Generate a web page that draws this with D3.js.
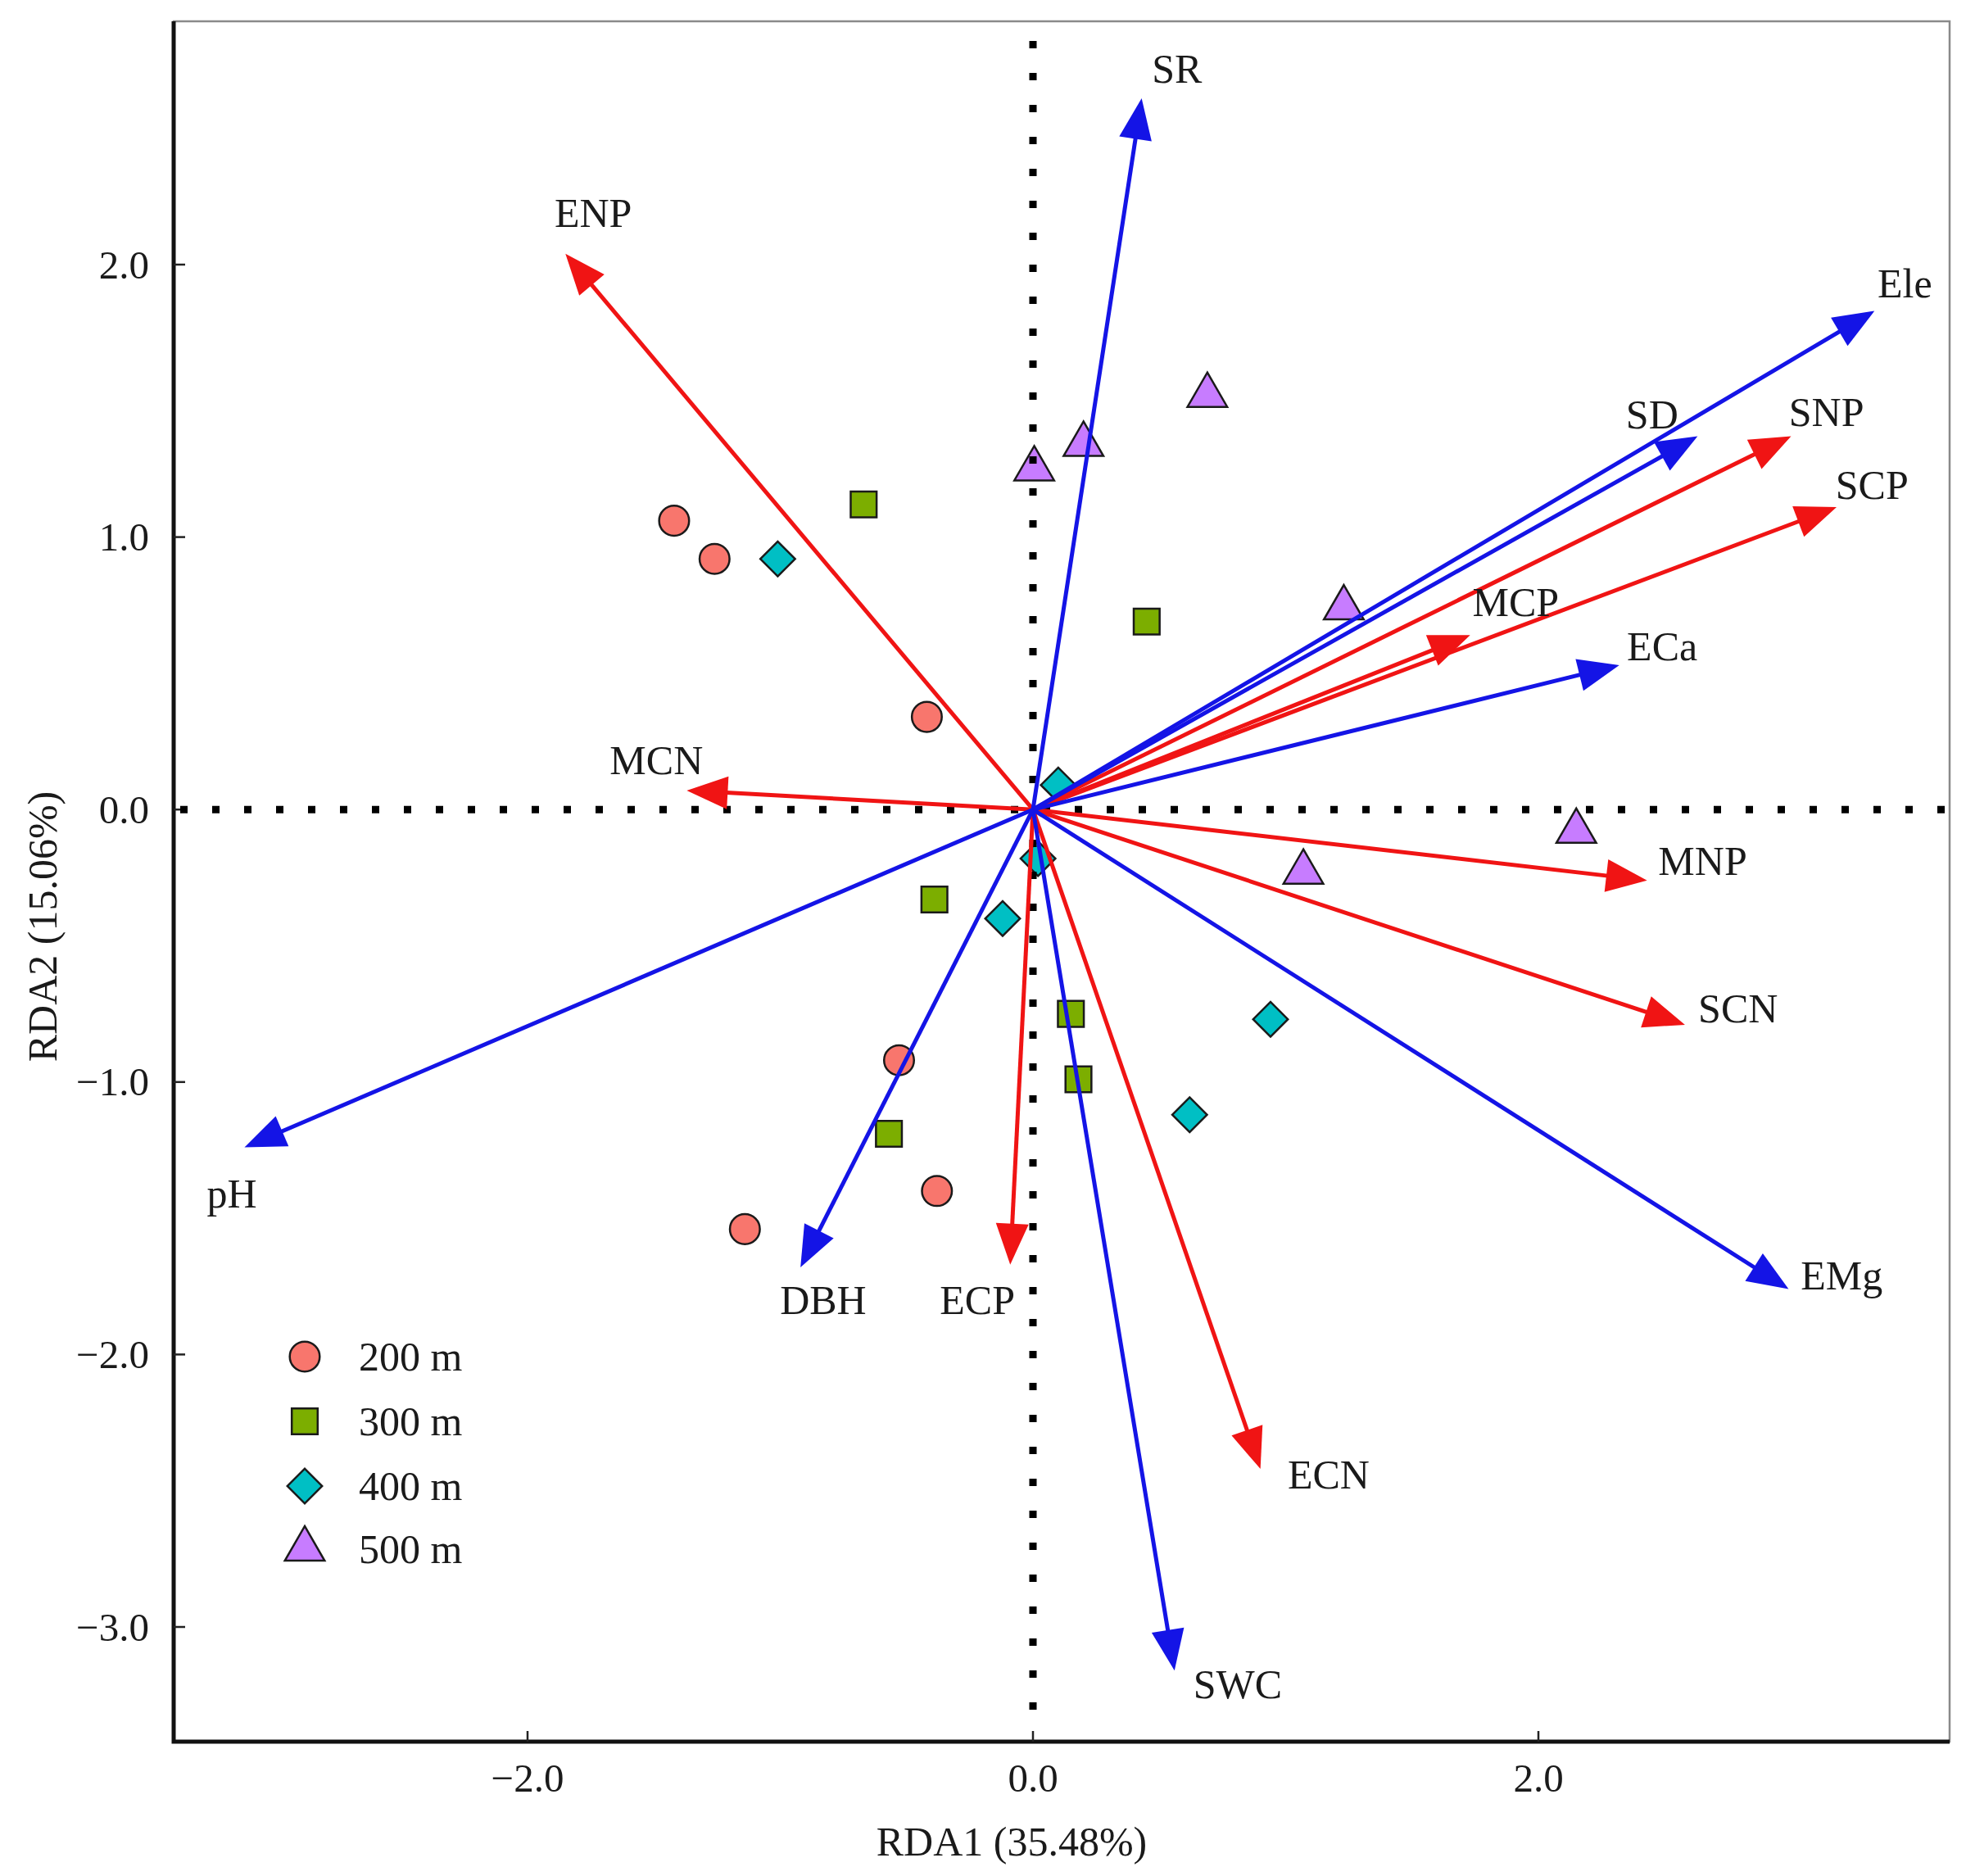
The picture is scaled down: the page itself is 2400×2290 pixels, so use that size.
<!DOCTYPE html>
<html>
<head>
<meta charset="utf-8">
<script src="https://cdn.jsdelivr.net/npm/d3@7/dist/d3.min.js"></script>
<style>
  body { margin: 0; background: #fff; }
  svg { display: block; }
  text { font-family: "Liberation Serif", "Times New Roman", serif; fill: #1a1a1a; }
</style>
</head>
<body>
<div id="chart"></div>
<script>
const WIDTH = 2400
const HEIGHT = 2290

// site scores (RDA1, RDA2) per elevation
const groups = ['200 m', '300 m', '400 m', '500 m']
const groupColors = ['#F8766D', '#7CAE00', '#00BFC4', '#C77CFF']
const sites200 = [[-1.42, 1.06], [-1.26, 0.92], [-0.42, 0.34], [-0.53, -0.92], [-0.38, -1.40], [-1.14, -1.54]]
const sites300 = [[-0.67, 1.12], [0.45, 0.69], [-0.39, -0.33], [0.15, -0.75], [0.18, -0.99], [-0.57, -1.19]]
const sites400 = [[-1.01, 0.92], [0.10, 0.09], [0.02, -0.18], [-0.12, -0.40], [0.94, -0.77], [0.62, -1.12]]
const sites500 = [[0.69, 1.52], [0.20, 1.34], [0.005, 1.25], [1.23, 0.74], [2.15, -0.08], [1.07, -0.23]]

// response variables (red arrows)
const redVars = ['ENP', 'MCN', 'MCP', 'SNP', 'SCP', 'MNP', 'SCN', 'ECN', 'ECP']
const redRDA1 = [-1.85, -1.37, 1.73, 3.00, 3.18, 2.43, 2.58, 0.90, -0.09]
const redRDA2 = [2.04, 0.07, 0.64, 1.37, 1.11, -0.26, -0.79, -2.42, -1.67]
const redLabelX = [-1.74, -1.49, 1.91, 3.14, 3.32, 2.65, 2.79, 1.17, -0.22]
const redLabelY = [2.19, 0.18, 0.76, 1.46, 1.19, -0.19, -0.73, -2.44, -1.80]

// explanatory variables (blue arrows)
const blueVars = ['SR', 'Ele', 'SD', 'ECa', 'EMg', 'SWC', 'DBH', 'pH']
const blueRDA1 = [0.43, 3.33, 2.63, 2.32, 2.99, 0.56, -0.92, -3.12]
const blueRDA2 = [2.61, 1.83, 1.37, 0.53, -1.76, -3.16, -1.68, -1.24]
const blueLabelX = [0.57, 3.45, 2.45, 2.49, 3.20, 0.81, -0.83, -3.17]
const blueLabelY = [2.72, 1.93, 1.45, 0.60, -1.71, -3.21, -1.80, -1.41]

const xTicks = [-2, 0, 2]
const yTicks = [2, 1, 0, -1, -2, -3]

const PLOT = { left: 212, right: 2380, top: 26, bottom: 2126 }

const x = d3.scaleLinear().domain([-2, 2]).range([644, 1878])
const y = d3.scaleLinear().domain([2, -3]).range([323, 1986])

const svg = d3.select('#chart').append('svg')
    .attr('width', WIDTH).attr('height', HEIGHT)

// frame: thin grey top/right, heavy black left/bottom
svg.append('rect')
    .attr('x', PLOT.left).attr('y', PLOT.top)
    .attr('width', PLOT.right - PLOT.left).attr('height', PLOT.bottom - PLOT.top)
    .attr('fill', 'none').attr('stroke', '#8a8a8a').attr('stroke-width', 2.5)
svg.append('path')
    .attr('d', `M${PLOT.left},${PLOT.top}V${PLOT.bottom}H${PLOT.right}`)
    .attr('fill', 'none').attr('stroke', '#111').attr('stroke-width', 5)

// inward ticks
svg.append('g').selectAll('line').data(yTicks).enter().append('line')
    .attr('x1', PLOT.left).attr('x2', PLOT.left + 14)
    .attr('y1', d => y(d)).attr('y2', d => y(d))
    .attr('stroke', '#222').attr('stroke-width', 2.5)
svg.append('g').selectAll('line').data(xTicks).enter().append('line')
    .attr('x1', d => x(d)).attr('x2', d => x(d))
    .attr('y1', PLOT.bottom).attr('y2', PLOT.bottom - 13)
    .attr('stroke', '#222').attr('stroke-width', 2.5)

const fmt = d => (d < 0 ? '\u2212' : '') + Math.abs(d).toFixed(1)

svg.append('g').selectAll('text').data(yTicks).enter().append('text')
    .attr('x', 182).attr('y', d => y(d))
    .attr('text-anchor', 'end').attr('dominant-baseline', 'central')
    .attr('font-size', 49)
    .text(fmt)
svg.append('g').selectAll('text').data(xTicks).enter().append('text')
    .attr('x', d => x(d)).attr('y', 2187)
    .attr('text-anchor', 'middle')
    .attr('font-size', 49)
    .text(fmt)

svg.append('text')
    .attr('x', 1235).attr('y', 2265)
    .attr('text-anchor', 'middle').attr('font-size', 50)
    .text('RDA1 (35.48%)')
svg.append('text')
    .attr('transform', 'translate(52,1131) rotate(-90)')
    .attr('text-anchor', 'middle').attr('dominant-baseline', 'central')
    .attr('font-size', 50)
    .text('RDA2 (15.06%)')

// markers
const shapes = [d3.symbolCircle, d3.symbolSquare, d3.symbolSquare, d3.symbolTriangle]
const sizes = [1050, 1000, 900, 1020]
const rotations = [0, 0, 45, 0]
const allSites = [sites200, sites300, sites400, sites500]

function drawMarker(g, gi, px, py) {
    g.append('path')
        .attr('d', d3.symbol().type(shapes[gi]).size(sizes[gi])())
        .attr('transform', `translate(${px},${py}) rotate(${rotations[gi]})`)
        .attr('fill', groupColors[gi])
        .attr('stroke', '#1a1a1a').attr('stroke-width', 2.5)
}

const pts = svg.append('g')
allSites.forEach((sites, gi) => {
    sites.forEach(s => drawMarker(pts, gi, x(s[0]), y(s[1])))
})

// dotted zero lines
svg.append('line')
    .attr('x1', x(0)).attr('x2', x(0)).attr('y1', 50).attr('y2', 2090)
    .attr('stroke', '#000').attr('stroke-width', 9).attr('stroke-dasharray', '9,30')
svg.append('line')
    .attr('x1', PLOT.left + 8).attr('x2', PLOT.right).attr('y1', y(0)).attr('y2', y(0))
    .attr('stroke', '#000').attr('stroke-width', 9).attr('stroke-dasharray', '9,30')

// arrows
const HEAD_LEN = 50
const HEAD_HALF = 20

function drawArrows(names, ax, ay, color) {
    const g = svg.append('g')
    const ox = x(0), oy = y(0)
    names.forEach((n, i) => {
        const tx = x(ax[i]), ty = y(ay[i])
        const len = Math.hypot(tx - ox, ty - oy)
        const ux = (tx - ox) / len, uy = (ty - oy) / len
        const bx = tx - ux * HEAD_LEN, by = ty - uy * HEAD_LEN
        g.append('line')
            .attr('x1', ox).attr('y1', oy)
            .attr('x2', tx - ux * (HEAD_LEN - 6)).attr('y2', ty - uy * (HEAD_LEN - 6))
            .attr('stroke', color).attr('stroke-width', 5)
        g.append('path')
            .attr('d', `M${tx},${ty}L${bx - uy * HEAD_HALF},${by + ux * HEAD_HALF}L${bx + uy * HEAD_HALF},${by - ux * HEAD_HALF}Z`)
            .attr('fill', color)
    })
}

drawArrows(redVars, redRDA1, redRDA2, '#f01414')
drawArrows(blueVars, blueRDA1, blueRDA2, '#1414e6')

// variable labels
function drawLabels(names, lx, ly) {
    svg.append('g').selectAll('text').data(names).enter().append('text')
        .attr('x', (d, i) => x(lx[i])).attr('y', (d, i) => y(ly[i]))
        .attr('text-anchor', 'middle').attr('dominant-baseline', 'central')
        .attr('font-size', 50)
        .text(d => d)
}
drawLabels(redVars, redLabelX, redLabelY)
drawLabels(blueVars, blueLabelX, blueLabelY)

// legend
const legendY = [1656, 1735, 1814, 1891]
const leg = svg.append('g')
groups.forEach((name, gi) => {
    drawMarker(leg, gi, 372, legendY[gi])
    leg.append('text')
        .attr('x', 438).attr('y', legendY[gi])
        .attr('dominant-baseline', 'central')
        .attr('font-size', 50)
        .text(name)
})
</script>
</body>
</html>
